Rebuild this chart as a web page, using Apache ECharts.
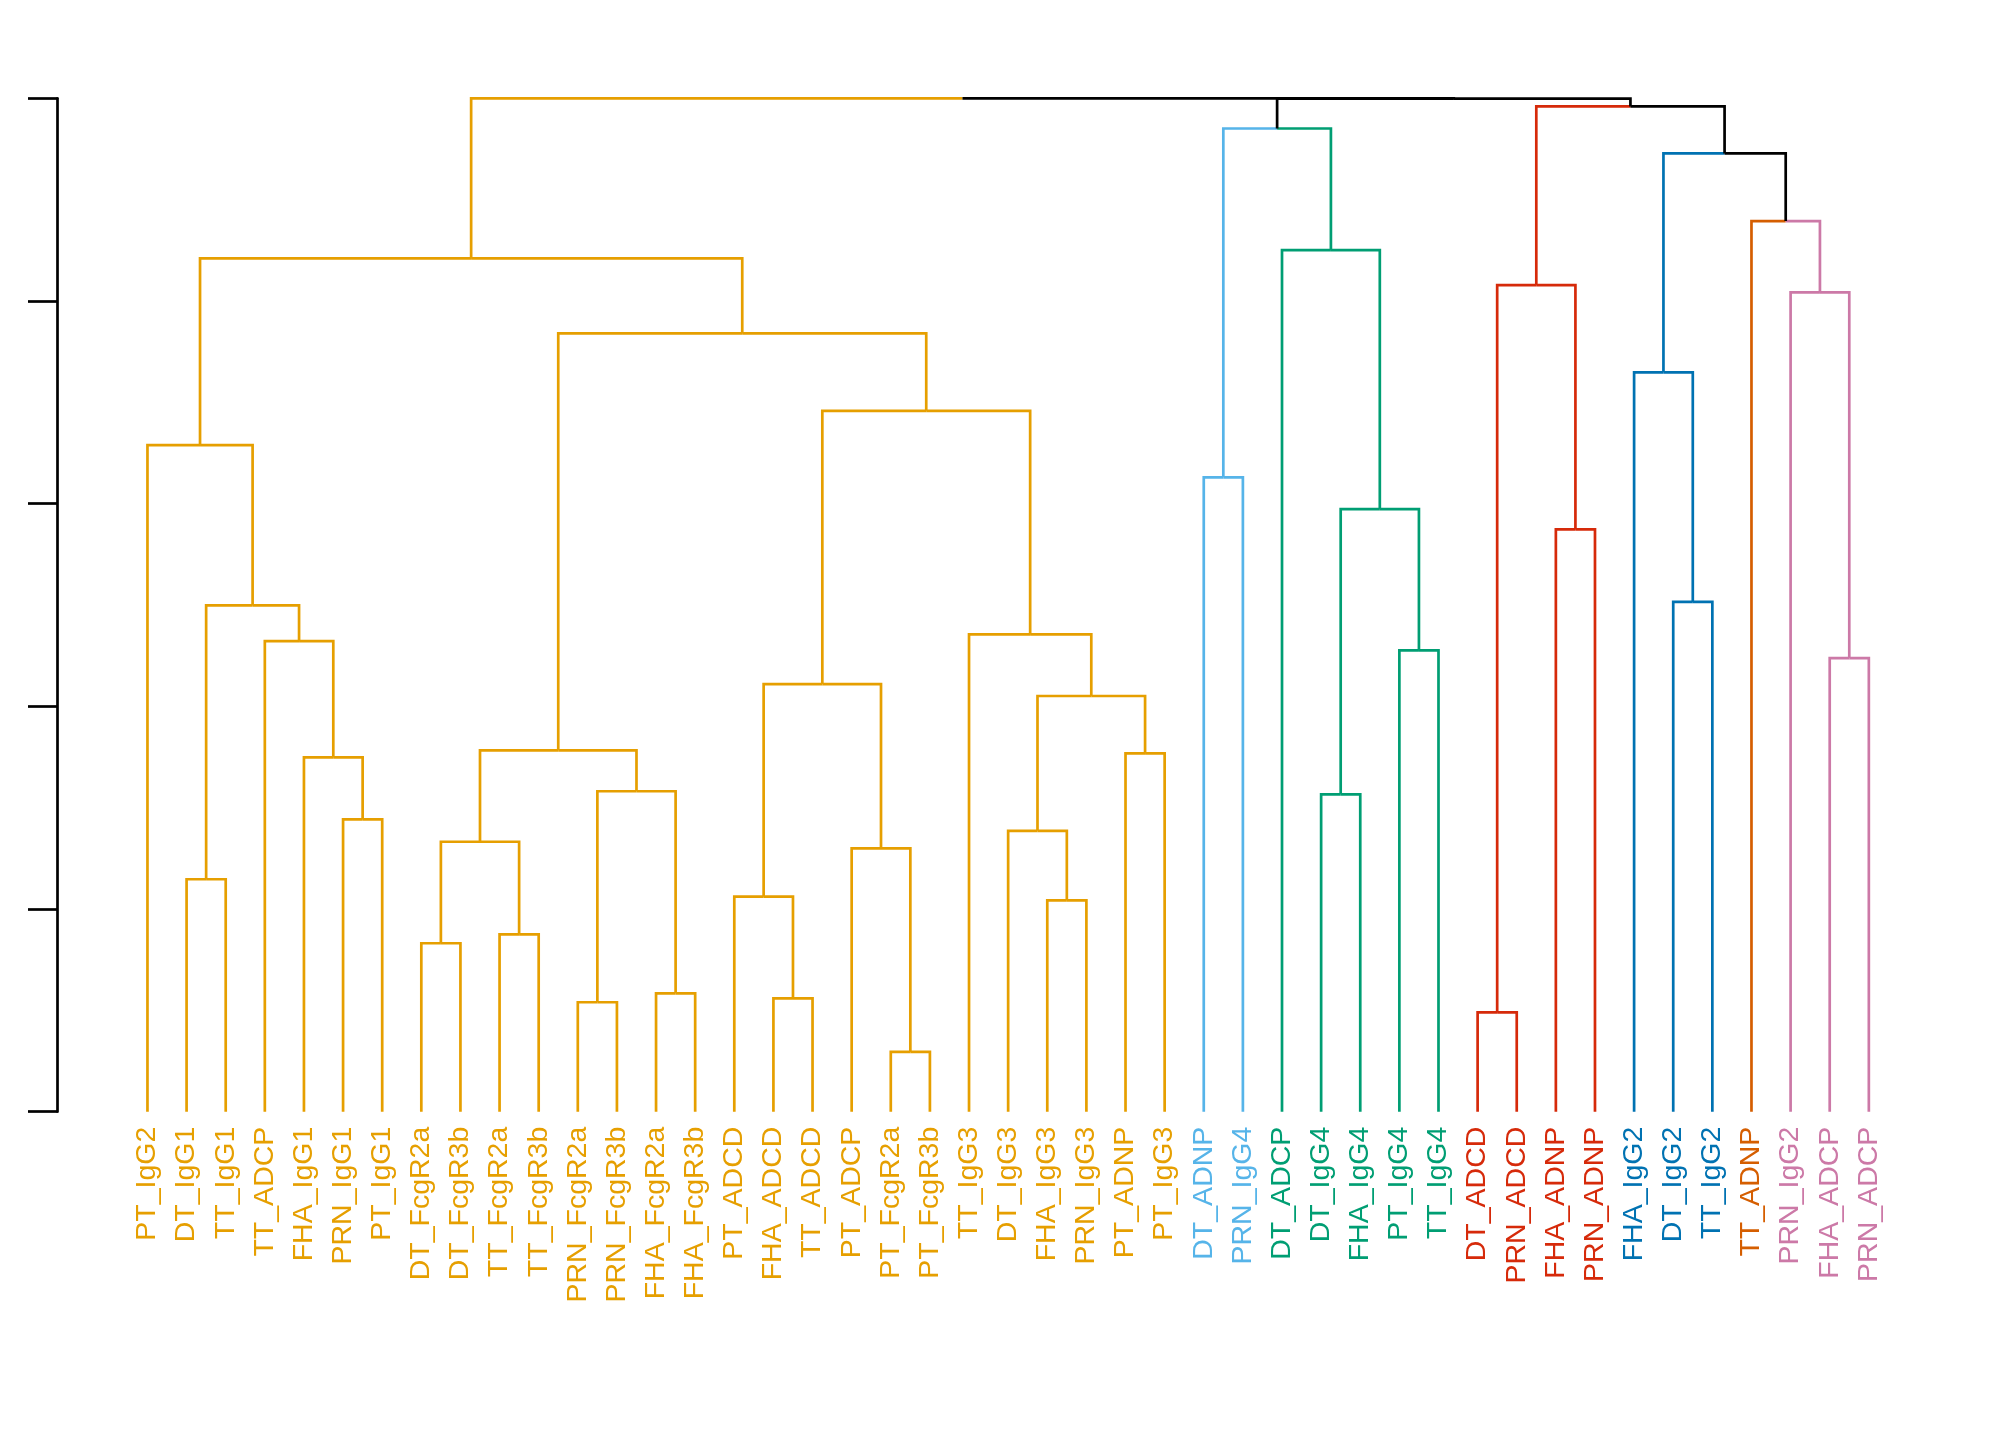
<!DOCTYPE html>
<html>
<head>
<meta charset="utf-8">
<script src="https://cdn.jsdelivr.net/npm/echarts@6/dist/echarts.min.js"></script>
<style>
html,body{margin:0;padding:0;background:#fff;}
#chart{width:2016px;height:1440px;}
</style>
</head>
<body>
<div id="chart"></div>
<script>
// Leaf labels in display order
const labels = [
  'PT_IgG2','DT_IgG1','TT_IgG1','TT_ADCP','FHA_IgG1','PRN_IgG1','PT_IgG1',
  'DT_FcgR2a','DT_FcgR3b','TT_FcgR2a','TT_FcgR3b','PRN_FcgR2a','PRN_FcgR3b','FHA_FcgR2a','FHA_FcgR3b',
  'PT_ADCD','FHA_ADCD','TT_ADCD','PT_ADCP','PT_FcgR2a','PT_FcgR3b',
  'TT_IgG3','DT_IgG3','FHA_IgG3','PRN_IgG3','PT_ADNP','PT_IgG3',
  'DT_ADNP','PRN_IgG4',
  'DT_ADCP','DT_IgG4','FHA_IgG4','PT_IgG4','TT_IgG4',
  'DT_ADCD','PRN_ADCD','FHA_ADNP','PRN_ADNP',
  'FHA_IgG2','DT_IgG2','TT_IgG2',
  'TT_ADNP',
  'PRN_IgG2','FHA_ADCP','PRN_ADCP'
];
// Cluster of each leaf
const leafGroup = [
  0,0,0,0,0,0,0, 0,0,0,0,0,0,0,0, 0,0,0,0,0,0, 0,0,0,0,0,0,
  1,1,
  2,2,2,2,2,
  3,3,3,3,
  4,4,4,
  5,
  6,6,6
];
const groupColors = ['#E69F00','#56B4E9','#009E73','#D62A0A','#0072B2','#D55E00','#CC79A7'];

// Merge table (hclust style): negative = leaf (1-based), positive = earlier merge row (1-based)
const mergeLeft  = [-20,-35,-12,-17,-14, -8,-10,-24,-16, -2,-19, 6,-23, -6,-31, 3, -5,-26,12,13, 9,-44,-33, -4,-22,10,-40,-37,15,-28, -1,21,-39,19,-43, 2,31,-30,-42,33,30,36,41,37];
const mergeRight = [-21,-36,-13,-18,-15, -9,-11,-25,  4, -3,  1, 7,  8, -7,-32, 5, 14,-27,16,18,11,-45,-34, 17, 20,24,-41,-38,23,-29, 26,25, 27,32, 22,28,34,29, 35,39,38,40,42,43];
const mergeHeight = [0.295,0.490,0.540,0.559,0.584,0.831,0.875,1.043,1.061,1.147,1.299,1.332,1.386,1.442,1.566,1.581,1.748,1.768,1.783,2.051,2.110,2.238,2.276,2.322,2.355,2.498,2.515,2.873,2.973,3.130,3.289,3.458,3.648,3.840,4.042,4.078,4.210,4.251,4.394,4.728,4.851,4.960,4.998,5.000];

// Layout: node x = midpoint of its two children, leaves at their order index
const nX = [], nH = [], nG = [];
function info(ref){
  if (ref < 0) { const i = -ref - 1; return {x: i, h: 0, g: leafGroup[i]}; }
  const k = ref - 1; return {x: nX[k], h: nH[k], g: nG[k]};
}
const segs = [];
for (let k = 0; k < mergeHeight.length; k++) {
  const a = info(mergeLeft[k]), b = info(mergeRight[k]);
  nX[k] = (a.x + b.x) / 2;
  nH[k] = mergeHeight[k];
  nG[k] = (a.g >= 0 && a.g === b.g) ? a.g : -1;
  [a, b].forEach(c => {
    segs.push([nX[k], nH[k], c.x, c.h, c.g]);
  });
}

const chart = echarts.init(document.getElementById('chart'), null, {renderer: 'canvas'});
chart.setOption({
  backgroundColor: '#ffffff',
  animation: false,
  grid: {left: 127.9, right: 127.6, top: 98.3, bottom: 328.3, containLabel: false},
  xAxis: [
    {
      type: 'category', data: labels, boundaryGap: true,
      axisLine: {show: false}, axisTick: {show: false}, splitLine: {show: false},
      axisLabel: {
        interval: 0, rotate: 90, margin: 15,
        fontFamily: 'Liberation Sans', fontSize: 28.5,
        color: function (value, index) { return groupColors[leafGroup[index]]; }
      }
    },
    {
      type: 'value', min: -0.5, max: labels.length - 0.5, show: false
    }
  ],
  yAxis: {
    type: 'value', min: 0, max: 5, interval: 1, offset: 70.9, position: 'left',
    axisLine: {show: true, onZero: false, lineStyle: {color: '#000', width: 2.7}},
    axisTick: {show: true, length: 29, lineStyle: {color: '#000', width: 2.7}},
    axisLabel: {show: false},
    splitLine: {show: false}
  },
  series: [{
    type: 'custom',
    xAxisIndex: 1, yAxisIndex: 0,
    clip: false,
    encode: {x: [0, 2], y: [1, 3]},
    data: segs,
    renderItem: function (params, api) {
      const p1 = api.coord([api.value(0), api.value(1)]);
      const p2 = api.coord([api.value(2), api.value(1)]);
      const p3 = api.coord([api.value(2), api.value(3)]);
      const g = api.value(4);
      return {
        type: 'polyline',
        shape: {points: [p1, p2, p3]},
        style: {stroke: g >= 0 ? groupColors[g] : '#000000', lineWidth: 2.7, fill: null, lineJoin: 'miter', lineCap: 'butt'}
      };
    }
  }]
});
</script>
</body>
</html>
